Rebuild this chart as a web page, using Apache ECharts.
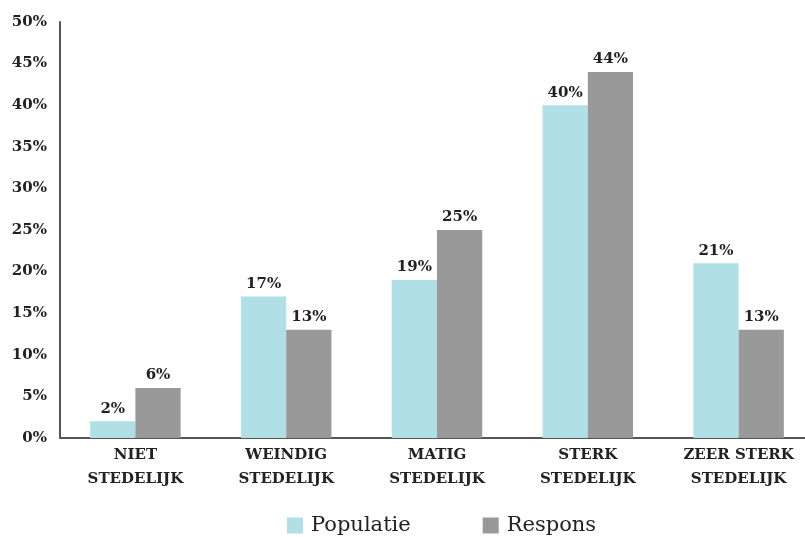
<!DOCTYPE html>
<html><head><meta charset="utf-8">
<script src="https://cdn.jsdelivr.net/npm/echarts@6/dist/echarts.min.js"></script>
<style>html,body{margin:0;padding:0;background:#fff}#c{width:805px;height:537px}</style>
</head><body><div id="c"></div>
<script>
const categories = ['NIET\nSTEDELIJK','WEINDIG\nSTEDELIJK','MATIG\nSTEDELIJK','STERK\nSTEDELIJK','ZEER STERK\nSTEDELIJK'];
const populatie = [2,17,19,40,21];
const respons = [6,13,25,44,13];
const FONT = 'DejaVu Serif';
const chart = echarts.init(document.getElementById('c'));
const lbl = {show:true, position:'top', formatter:'{c}%', color:'#222', fontFamily:FONT, fontSize:15, fontWeight:'bold', distance:5};
chart.setOption({
  animation:false,
  textStyle:{fontFamily:FONT},
  grid:{left:60, width:754, top:22, bottom:99, containLabel:false, outerBoundsMode:'none'},
  legend:{left:287, top:515, padding:0, itemWidth:16, itemHeight:16, itemGap:72, icon:'rect',
    textStyle:{fontFamily:FONT, fontSize:21, color:'#222', padding:[0,0,0,3]},
    data:['Populatie','Respons']},
  xAxis:{type:'category', data:categories,
    axisLine:{lineStyle:{color:'#555', width:2}}, axisTick:{show:false},
    axisLabel:{color:'#222', fontFamily:FONT, fontSize:15, fontWeight:'bold', lineHeight:24, margin:5, interval:0}},
  yAxis:{type:'value', min:0, max:50, interval:5,
    axisLine:{show:true, lineStyle:{color:'#555', width:2}}, axisTick:{show:false}, splitLine:{show:false},
    axisLabel:{formatter:'{value}%', color:'#222', fontFamily:FONT, fontSize:15, fontWeight:'bold', margin:13}},
  series:[
    {name:'Populatie', type:'bar', data:populatie, itemStyle:{color:'#b0dfe5'}, barGap:'0%', barCategoryGap:'40%', label:lbl},
    {name:'Respons', type:'bar', data:respons, itemStyle:{color:'#999999'}, label:lbl}
  ]
});
</script></body></html>
